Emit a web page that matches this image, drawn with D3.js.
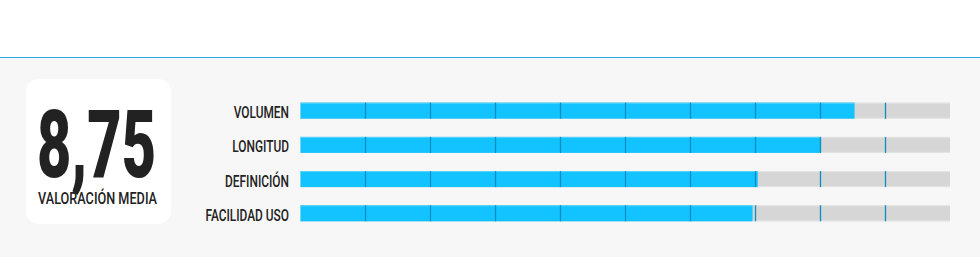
<!DOCTYPE html>
<html>
<head>
<meta charset="utf-8">
<script src="https://cdn.jsdelivr.net/npm/d3@7"></script>
<style>
  html, body { margin: 0; padding: 0; background: #fff; }
  svg { display: block; }
</style>
</head>
<body>
<script>
// chart data
var categories = ["VOLUMEN", "LONGITUD", "DEFINICIÓN", "FACILIDAD USO"];
var scores = [8.53, 8.01, 7.04, 6.96];
var scoreMax = 10;
var averageLabel = "8,75";
var averageCaption = "VALORACIÓN MEDIA";

var width = 980, height = 257;

var svg = d3.select("body").append("svg")
    .attr("width", width)
    .attr("height", height);

/* background: white header strip, blue rule, light grey panel */
svg.append("rect").attr("x", 0).attr("y", 0).attr("width", width).attr("height", 57).attr("fill", "#ffffff");
svg.append("rect").attr("x", 0).attr("y", 58).attr("width", width).attr("height", height - 58).attr("fill", "#f7f7f7");
svg.append("line")
    .attr("x1", 0).attr("x2", width)
    .attr("y1", 57.5).attr("y2", 57.5)
    .attr("stroke", "#2aa9e0").attr("stroke-width", 1.2);

/* average score box */
var box = svg.append("g").attr("transform", "translate(26,79)");
box.append("rect")
    .attr("width", 145).attr("height", 145)
    .attr("rx", 13).attr("ry", 13)
    .attr("fill", "#ffffff");
box.append("text")
    .attr("x", 11).attr("y", 98)
    .attr("font-family", "Roboto, 'DejaVu Sans', sans-serif")
    .attr("font-weight", 900)
    .attr("font-size", 95)
    .attr("textLength", 119)
    .attr("lengthAdjust", "spacingAndGlyphs")
    .attr("fill", "#222")
    .text(averageLabel);
box.append("text")
    .attr("x", 12).attr("y", 125)
    .attr("font-family", "Roboto, 'DejaVu Sans', sans-serif")
    .attr("font-weight", 500)
    .attr("font-size", 16.5)
    .attr("textLength", 119)
    .attr("lengthAdjust", "spacingAndGlyphs")
    .attr("fill", "#222")
    .text(averageCaption);

/* scales */
var barH = 16;
var x = d3.scaleLinear().domain([0, scoreMax]).range([300.5, 950]);
var y = d3.scalePoint().domain(categories).range([102.7, 205.3]);

var rows = svg.selectAll("g.row")
    .data(categories.map(function(c, i) { return {name: c, value: scores[i]}; }))
    .enter().append("g")
    .attr("class", "row")
    .attr("transform", function(d) { return "translate(0," + y(d.name) + ")"; });

// labels, condensed via horizontal scale
rows.append("g")
    .attr("transform", "translate(289," + (barH - 0.5) + ") scale(0.7,1)")
  .append("text")
    .attr("text-anchor", "end")
    .attr("font-family", "Roboto, 'DejaVu Sans', sans-serif")
    .attr("font-weight", 500)
    .attr("font-size", 17)
    .attr("fill", "#222")
    .text(function(d) { return d.name; });

// grey track
rows.append("rect")
    .attr("x", x(0)).attr("y", 0)
    .attr("width", x(scoreMax) - x(0))
    .attr("height", barH)
    .attr("fill", "#d6d6d6");
rows.append("rect")
    .attr("x", x(0)).attr("y", 0)
    .attr("width", x(scoreMax) - x(0))
    .attr("height", 1)
    .attr("fill", "#e4e4e4");
rows.append("rect")
    .attr("x", x(0)).attr("y", barH - 1)
    .attr("width", x(scoreMax) - x(0))
    .attr("height", 1)
    .attr("fill", "#e4e4e4");

// blue score bar
rows.append("rect")
    .attr("x", x(0)).attr("y", 0)
    .attr("width", function(d) { return x(d.value) - x(0); })
    .attr("height", barH)
    .attr("fill", "#13c3ff");
rows.append("rect")
    .attr("x", x(0)).attr("y", 0)
    .attr("width", function(d) { return x(d.value) - x(0); })
    .attr("height", 1)
    .attr("fill", "#5ad3ff");

// tick marks at each unit
var ticks = x.ticks(scoreMax).filter(function(t) { return t > 0 && t < scoreMax; });
rows.selectAll("line.tick")
    .data(ticks)
    .enter().append("line")
    .attr("class", "tick")
    .attr("x1", function(t) { return Math.round(x(t)) + 0.5; })
    .attr("x2", function(t) { return Math.round(x(t)) + 0.5; })
    .attr("y1", 0).attr("y2", barH)
    .attr("stroke", "#0a8fc2")
    .attr("stroke-width", 1.3);
</script>
</body>
</html>
